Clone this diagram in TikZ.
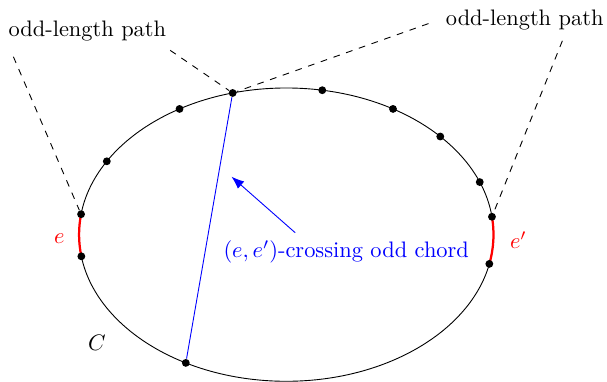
\documentclass[tikz,border=0pt]{standalone}
\usepackage{amsmath}
\usepackage{xcolor}
\usetikzlibrary{arrows.meta,calc}

\begin{document}
\begin{tikzpicture}[dot/.style={circle,fill=black,inner sep=0pt,minimum size=3.5pt},oddpath/.style={dashed},chord/.style={blue},edgearc/.style={red,line width=1pt}]
\useasboundingbox (-4.49,-2.3) rectangle (5.03,3.68);

\draw (0,0) ellipse [x radius=3.25,y radius=2.3];
\draw[edgearc] (172:3.25 and 2.3) arc[start angle=172,end angle=188.5,x radius=3.25,y radius=2.3];
\draw[edgearc] (-11.5:3.25 and 2.3) arc[start angle=-11.5,end angle=7,x radius=3.25,y radius=2.3];
\foreach \a in {121,150,80,59,42,21} \node[dot] at (\a:3.25 and 2.3) {};
\node[dot] (ctop) at (105:3.25 and 2.3) {}; \node[dot] (cbot) at (241:3.25 and 2.3) {};
\node[dot] (eup) at (172:3.25 and 2.3) {}; \node[dot] (elow) at (188.5:3.25 and 2.3) {};
\node[dot] (fup) at (7:3.25 and 2.3) {}; \node[dot] (flow) at (-11.5:3.25 and 2.3) {};

\node (lpath) at (-3.12,3.20) {odd-length path}; \node (rpath) at (3.74,3.36) {odd-length path};
\coordinate (la) at (-4.28,2.79); \coordinate (lb) at (-1.82,2.89); \coordinate (ra) at (2.23,3.31); \coordinate (rb) at (4.33,3.04);
\draw[oddpath] (la) -- (eup); \draw[oddpath] (lb) -- (ctop); \draw[oddpath] (ra) -- (ctop); \draw[oddpath] (rb) -- (fup);

\node[text=red] (elab) at (-3.56,-0.06) {$e$}; \node[text=red] (flab) at (3.64,-0.09) {$e'$};
\node (clab) at (-2.97,-1.70) {$C$};

\draw[chord] (ctop) -- (cbot);
\node[text=blue] (xlab) at (0.94,-0.27) {$(e,e')$-crossing odd chord};
\coordinate (xs) at (0.14,0.03); \coordinate (xt) at (-0.86,0.91);
\draw[chord,-{Latex[length=2mm]}] (xs) -- (xt);

\end{tikzpicture}
\end{document}
